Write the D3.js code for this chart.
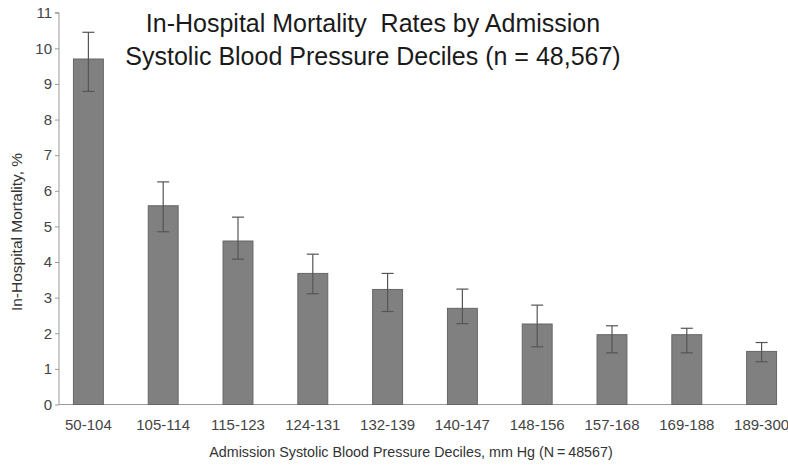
<!DOCTYPE html>
<html>
<head>
<meta charset="utf-8">
<script src="https://cdn.jsdelivr.net/npm/d3@7"></script>
<style>
  body { margin: 0; background: #fff; }
  svg { display: block; }
  .axis text { font-family: "Liberation Sans", Arial, sans-serif; font-size: 15px; fill: #444; }
  .axis path, .axis line { stroke: #999; }
</style>
</head>
<body>
<svg id="chart" width="788" height="465"></svg>
<script>
// Admission SBP deciles and in-hospital mortality (%)
var deciles = ["50-104", "105-114", "115-123", "124-131", "132-139", "140-147", "148-156", "157-168", "169-188", "189-300"];
var mortality = [9.70, 5.58, 4.59, 3.68, 3.23, 2.70, 2.26, 1.96, 1.96, 1.49];
var ciLow = [8.79, 4.85, 4.08, 3.11, 2.61, 2.27, 1.62, 1.45, 1.45, 1.20];
var ciHigh = [10.45, 6.25, 5.26, 4.22, 3.68, 3.24, 2.79, 2.21, 2.14, 1.74];
var yTicks = [0, 1, 2, 3, 4, 5, 6, 7, 8, 9, 10, 11];

function drawChart() {
	var data = deciles.map(function(d, i) {
		return {name: d, value: mortality[i], lo: ciLow[i], hi: ciHigh[i]};
	});

	var svg = d3.select("#chart");
	var plotLeft = 59, plotRight = 775, plotTop = 12.7, plotBottom = 404.5;

	var x = d3.scaleBand()
		.domain(deciles)
		.range([51, 799])
		.paddingInner(0.6)
		.paddingOuter(0.3);

	var y = d3.scaleLinear()
		.domain([0, 11])
		.range([plotBottom, plotTop]);

	function cx(d) { return x(d.name) + x.bandwidth() / 2; }

	// y axis
	svg.append("g")
		.attr("class", "y axis")
		.attr("transform", "translate(" + plotLeft + ",0)")
		.call(d3.axisLeft(y).tickValues(yTicks).tickSize(4).tickPadding(3).tickFormat(d3.format("d")))
		.call(function(g) { g.select(".domain").attr("d", "M-4," + y(11) + "H0V" + plotBottom); });

	// x axis line
	svg.append("line")
		.attr("x1", plotLeft).attr("x2", plotRight)
		.attr("y1", plotBottom).attr("y2", plotBottom)
		.attr("stroke", "#999");

	// x tick labels
	svg.append("g")
		.attr("class", "axis")
		.selectAll("text")
		.data(data)
	  .enter().append("text")
		.attr("x", cx)
		.attr("y", 430)
		.attr("text-anchor", "middle")
		.text(function(d) { return d.name; });

	// bars
	svg.selectAll(".bar")
		.data(data)
	  .enter().append("rect")
		.attr("class", "bar")
		.attr("x", function(d) { return x(d.name); })
		.attr("y", function(d) { return y(d.value); })
		.attr("width", x.bandwidth())
		.attr("height", function(d) { return plotBottom - y(d.value); })
		.attr("fill", "#808080")
		.attr("stroke", "#666")
		.attr("stroke-width", 1);

	// error bars
	var err = svg.selectAll(".err")
		.data(data)
	  .enter().append("g")
		.attr("class", "err")
		.attr("stroke", "#555")
		.attr("stroke-width", 1.2);

	err.append("line")
		.attr("x1", cx).attr("x2", cx)
		.attr("y1", function(d) { return y(d.lo); })
		.attr("y2", function(d) { return y(d.hi); });

	err.append("line")
		.attr("x1", function(d) { return cx(d) - 6; })
		.attr("x2", function(d) { return cx(d) + 6; })
		.attr("y1", function(d) { return y(d.hi); })
		.attr("y2", function(d) { return y(d.hi); });

	err.append("line")
		.attr("x1", function(d) { return cx(d) - 6; })
		.attr("x2", function(d) { return cx(d) + 6; })
		.attr("y1", function(d) { return y(d.lo); })
		.attr("y2", function(d) { return y(d.lo); });

	// title
	var title = svg.append("text")
		.attr("text-anchor", "middle")
		.attr("font-family", "Liberation Sans, Arial, sans-serif")
		.attr("font-size", 25)
		.attr("fill", "#1a1a1a");
	title.append("tspan").attr("x", 373).attr("y", 32).text("In-Hospital Mortality\u00a0 Rates by Admission");
	title.append("tspan").attr("x", 373).attr("y", 65).text("Systolic Blood Pressure Deciles (n = 48,567)");

	// axis titles
	svg.append("text")
		.attr("x", 411)
		.attr("y", 457)
		.attr("text-anchor", "middle")
		.attr("font-family", "Liberation Sans, Arial, sans-serif")
		.attr("font-size", 14.3)
		.attr("fill", "#333")
		.text("Admission Systolic Blood Pressure Deciles, mm Hg (N\u2009=\u200948567)");

	svg.append("text")
		.attr("transform", "translate(22,232) rotate(-90)")
		.attr("text-anchor", "middle")
		.attr("font-family", "Liberation Sans, Arial, sans-serif")
		.attr("font-size", 15.5)
		.attr("fill", "#333")
		.text("In-Hospital Mortality, %");
}

drawChart();
</script>
</body>
</html>
